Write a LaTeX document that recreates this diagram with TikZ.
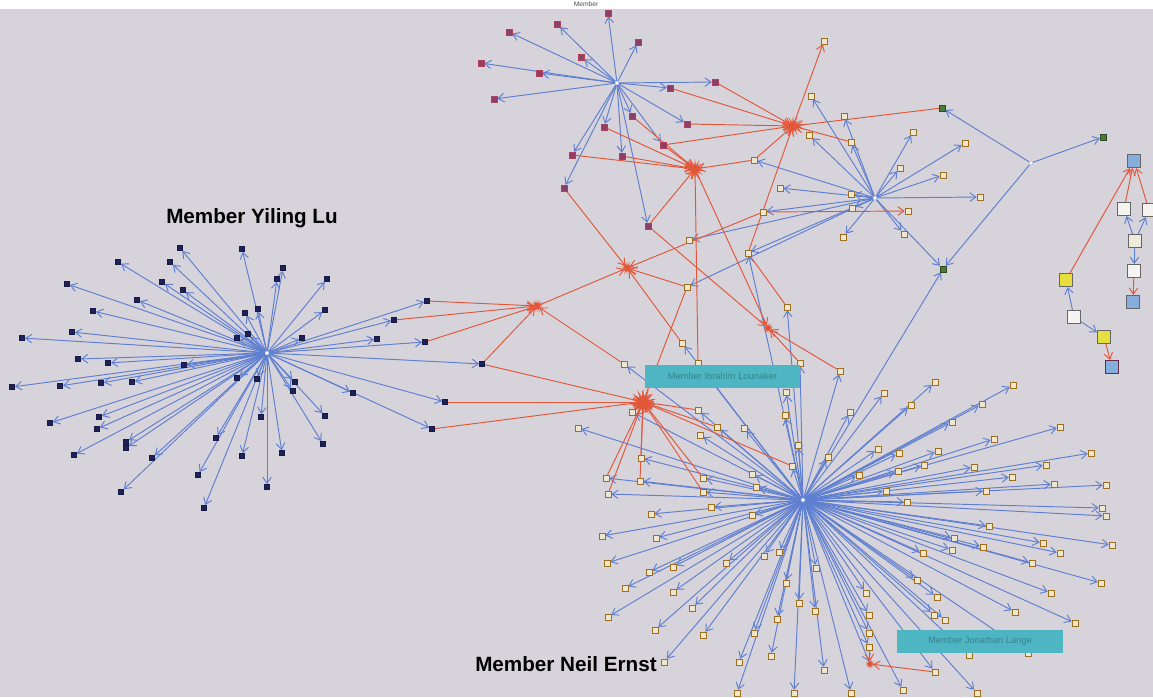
\documentclass[tikz,border=0pt]{standalone}
\usepackage{fontspec}
\newfontfamily\labfont{Liberation Sans}
\usetikzlibrary{arrows.meta,shapes.geometric}
\pgfdeclarelayer{bg}
\pgfdeclarelayer{edges}
\pgfsetlayers{bg,edges,main}

\definecolor{bgc}{HTML}{D7D3DB}
\definecolor{blueE}{HTML}{5F80D0}
\definecolor{redE}{HTML}{E2573A}
\definecolor{navy}{HTML}{1E2058}
\definecolor{plum}{HTML}{8C3F6A}
\definecolor{plumB}{HTML}{B0405A}
\definecolor{tanF}{HTML}{EEE6CF}
\definecolor{tanB}{HTML}{9C6E1E}
\definecolor{grn}{HTML}{4C7A3C}
\definecolor{cyanB}{HTML}{4DB6C2}
\definecolor{cyanT}{HTML}{35848F}
\definecolor{kblue}{HTML}{86AEDD}
\definecolor{kyel}{HTML}{E6DE3C}
\definecolor{kwhite}{HTML}{F6F4F0}
\definecolor{kcream}{HTML}{EEEBDC}

\tikzset{
  hub/.style={circle, fill=white, draw=blueE!70, line width=0.3pt, inner sep=0pt, minimum size=3pt},
  ynode/.style={rectangle, fill=navy, draw=navy!80!black, line width=0.3pt, inner sep=0pt, minimum size=4pt},
  pnode/.style={rectangle, fill=plum, draw=plumB, line width=0.4pt, inner sep=0pt, minimum size=4.4pt},
  tnode/.style={rectangle, fill=tanF, draw=tanB, line width=0.5pt, inner sep=0pt, minimum size=4.4pt},
  gnode/.style={rectangle, fill=grn, draw=grn!60!black, line width=0.4pt, inner sep=0pt, minimum size=4.4pt},
  knode/.style={rectangle, draw=black!60, line width=0.6pt, inner sep=0pt, minimum size=10pt},
  rhub/.style={circle, fill=redE, inner sep=0pt, minimum size=4pt},
  burst/.style={star, star points=14, star point ratio=2.6, fill=redE, draw=none, inner sep=0pt, minimum size=#1},
  bedge/.style={draw=blueE, line width=0.72pt, -{Straight Barb[length=4.6pt,width=6.4pt]}},
  redge/.style={draw=redE, line width=0.72pt, -{Straight Barb[length=4.6pt,width=6.4pt]}},
  rline/.style={draw=redE, line width=0.72pt},
  cbox/.style={rectangle, fill=cyanB, draw=none, inner sep=0pt, text=cyanT,
    font=\labfont\fontsize{7}{8}\selectfont},
  member/.style={font=\labfont\bfseries\fontsize{15.5}{17}\selectfont, text=black, inner sep=0pt}
}

\begin{document}
\begin{tikzpicture}[x=0.75pt,y=-0.75pt]
\clip (0,0) rectangle (1153,697);
\begin{pgfonlayer}{bg}
  \fill[bgc] (0,0) rectangle (1153,697);
  \fill[white] (0,0) rectangle (1153,9);
\end{pgfonlayer}

% ---------- hubs ----------
\node[hub] (Y) at (267,353) {};
\node[hub] (T) at (617,83) {};
\node[hub] (N) at (803,500) {};
\node[hub] (H) at (875,198) {};
\node[hub] (W) at (1031,163) {};

% ---------- relay hubs (red) ----------
\node[rhub] (R1) at (793,126) {};
\node[rhub] (R2) at (695,169) {};
\node[rhub] (R3) at (627,268) {};
\node[rhub] (R4) at (537,306) {};
\node[rhub] (R5) at (643,402) {};
\node[rhub] (R6) at (768,328) {};
\node[rhub] (q0) at (870,664) {};

% ---------- Yiling Lu cluster ----------
\foreach \x/\y [count=\i] in {180/248,242/249,118/262,170/262,283/268,277/279,327/279,67/284,
  162/282,183/290,137/300,93/311,325/310,245/313,258/309,72/332,22/338,302/338,248/334,
  237/338,377/339,78/359,108/363,184/365,12/387,60/386,101/383,132/382,237/378,257/379,
  295/382,293/391,353/393,50/423,99/417,97/429,261/417,325/416,126/442,126/448,74/455,
  152/458,216/438,242/456,282/453,323/444,198/475,267/487,121/492,204/508}{
  \node[ynode] (y\i) at (\x,\y) {};
  \begin{pgfonlayer}{edges}\draw[bedge] (Y) -- (y\i);\end{pgfonlayer}
}
\node[ynode] (yA) at (427,301) {};
\node[ynode] (yB) at (394,320) {};
\node[ynode] (yC) at (425,342) {};
\node[ynode] (yD) at (482,364) {};
\node[ynode] (yE) at (445,402) {};
\node[ynode] (yF) at (432,429) {};

% ---------- top cluster ----------
\foreach \x/\y [count=\i] in {608/13,557/24,509/32,638/42,581/57,481/63,539/73,494/99}{
  \node[pnode] (t\i) at (\x,\y) {};
  \begin{pgfonlayer}{edges}\draw[bedge] (T) -- (t\i);\end{pgfonlayer}
}
\node[pnode] (pA) at (715,82) {};
\node[pnode] (pB) at (670,88) {};
\node[pnode] (pC) at (687,124) {};
\node[pnode] (pD) at (663,145) {};
\node[pnode] (pE) at (604,127) {};
\node[pnode] (pF) at (632,116) {};
\node[pnode] (pG) at (572,155) {};
\node[pnode] (pH) at (622,156) {};
\node[pnode] (pI) at (564,188) {};
\node[pnode] (pJ) at (648,226) {};

% ---------- right cluster ----------
\foreach \x/\y [count=\i] in {913/132,965/143,900/168,943/175,980/197,851/194,852/208,
  904/234,843/237,844/116,811/96,809/135,780/188,689/240}{
  \node[tnode] (h\i) at (\x,\y) {};
  \begin{pgfonlayer}{edges}\draw[bedge] (H) -- (h\i);\end{pgfonlayer}
}
\node[tnode] (c17) at (851,142) {};
\node[tnode] (c11) at (754,160) {};
\node[tnode] (c10) at (763,212) {};
\node[tnode] (c3) at (687,287) {};
\node[tnode] (c5) at (748,253) {};
\node[tnode] (c18) at (908,211) {};
\node[tnode] (c15) at (824,41) {};
\node[gnode] (g1) at (942,108) {};
\node[gnode] (g2) at (1103,137) {};
\node[gnode] (g3) at (943,269) {};

% ---------- Neil Ernst cluster ----------
\foreach \x/\y [count=\i] in {935/382,1013/385,884/393,786/392,911/405,982/404,850/412,785/415,
  578/428,700/435,744/428,952/422,1060/427,994/439,878/449,899/453,938/451,798/445,828/457,
  1091/453,1046/465,974/467,924/465,898/471,859/475,1012/477,1054/484,1106/485,986/491,
  886/491,907/502,1102/508,1106/516,752/474,756/487,711/507,651/514,752/515,602/536,656/538,
  989/526,954/538,1043/543,1060/553,1112/545,983/547,952/550,923/553,1032/563,779/552,
  764/556,607/563,649/572,673/567,726/563,816/568,1101/583,917/580,625/588,673/592,786/583,
  866/593,1051/593,937/597,799/603,692/608,815/611,934/615,945/620,1015/612,1075/623,869/615,
  608/617,777/619,655/630,754/633,703/635,869/633,969/655,1028/653,739/662,771/656,824/670,
  737/693,794/693,851/693,903/690,977/693,664/662}{
  \node[tnode] (n\i) at (\x,\y) {};
  \begin{pgfonlayer}{edges}\draw[bedge] (N) -- (n\i);\end{pgfonlayer}
}
\node[tnode] (mA) at (632,412) {};
\node[tnode] (mB) at (606,478) {};
\node[tnode] (mC) at (608,494) {};
\node[tnode] (mD) at (640,481) {};
\node[tnode] (mE) at (703,478) {};
\node[tnode] (mF) at (703,492) {};
\node[tnode] (mG) at (698,410) {};
\node[tnode] (mH) at (717,427) {};
\node[tnode] (mI) at (792,466) {};
\node[tnode] (mJ) at (641,458) {};
\node[tnode] (c1) at (624,364) {};
\node[tnode] (c2) at (682,343) {};
\node[tnode] (c6) at (787,307) {};
\node[tnode] (c7) at (698,363) {};
\node[tnode] (c8) at (800,363) {};
\node[tnode] (c9) at (840,371) {};
\node[tnode] (q1) at (869,647) {};
\node[tnode] (q2) at (935,672) {};

% ---------- small chain on the far right ----------
\node[knode, fill=kblue] (k1) at (1134,161) {};
\node[knode, fill=kwhite] (k2) at (1124,209) {};
\node[knode, fill=kwhite] (k3) at (1149,210) {};
\node[knode, fill=kcream] (k4) at (1135,241) {};
\node[knode, fill=kwhite] (k5) at (1134,271) {};
\node[knode, fill=kblue] (k6) at (1133,302) {};
\node[knode, fill=kyel] (k7) at (1066,280) {};
\node[knode, fill=kwhite] (k8) at (1074,317) {};
\node[knode, fill=kyel] (k9) at (1104,337) {};
\node[knode, fill=kblue, draw=plum!70!black] (k10) at (1112,367) {};

\begin{pgfonlayer}{edges}
  % blue links
  \foreach \t in {yA,yB,yC,yD,yE,yF} \draw[bedge] (Y) -- (\t);
  \foreach \t in {pA,pB,pC,pD,pE,pF,pG,pH,pI,pJ} \draw[bedge] (T) -- (\t);
  \foreach \t in {c17,c11,c10,c3,c5,g3} \draw[bedge] (H) -- (\t);
  \foreach \t in {mA,mB,mC,mD,mE,mF,mG,mH,mI,mJ,c1,c2,c5,c6,c7,c8,c9,g3,q0,q1,q2}
    \draw[bedge] (N) -- (\t);
  \foreach \t in {g1,g2,g3} \draw[bedge] (W) -- (\t);
  \draw[bedge] (k4) -- (k2);
  \draw[bedge] (k4) -- (k3);
  \draw[bedge] (k4) -- (k5);
  \draw[bedge] (k8) -- (k7);
  \draw[bedge] (k8) -- (k9);
  % red links
  \foreach \s in {yA,yB,yC,yD,c1} \draw[redge] (\s) -- (R4);
  \draw[redge] (R4) -- (R3);
  \foreach \s in {pI,c2,c3,c10} \draw[redge] (\s) -- (R3);
  \draw[redge] (c10) -- (c18);
  \foreach \s in {pD,pE,pF,pG,pH,pJ,c11,c7} \draw[redge] (\s) -- (R2);
  \foreach \s in {pA,pB,pC,pD,g1,c17,c11,c5} \draw[redge] (\s) -- (R1);
  \draw[redge] (R1) -- (c15);
  \foreach \s in {R2,pJ,c8,c9} \draw[redge] (\s) -- (R6);
  \draw[rline] (c5) -- (c6);
  \foreach \s in {yD,yE,yF,c3,mA,mB,mC,mD,mE,mF,mG,mH,mI,mJ} \draw[redge] (\s) -- (R5);
  \draw[redge] (q1) -- (q0);
  \draw[redge] (q2) -- (q0);
  \draw[redge] (k7) -- (k1);
  \draw[redge] (k2) -- (k1);
  \draw[redge] (k3) -- (k1);
  \draw[redge] (k5) -- (k6);
  \draw[redge] (k9) -- (k10);
\end{pgfonlayer}

% bursts at the relay hubs
\node[burst=15pt] (b1) at (R1) {};
\node[burst=15pt] (b2) at (R2) {};
\node[burst=10pt] (b3) at (R3) {};
\node[burst=10pt] (b4) at (R4) {};
\node[burst=20pt] (b5) at (R5) {};
\node[burst=8pt] (b6) at (R6) {};
\node[burst=7pt] (b7) at (q0) {};

% ---------- labels ----------
\node[member] (labY) at (252,218) {Member Yiling Lu};
\node[member] (labN) at (566,664) {Member Neil Ernst};
\node[font=\labfont\fontsize{5}{6}\selectfont, text=black!70, inner sep=0pt] (labT) at (586,4.5) {Member};
\node[cbox, minimum width=116pt, minimum height=17pt] (box1) at (722.5,376.5) {Member Ibrahim Lounaker};
\node[cbox, minimum width=124.5pt, minimum height=17pt] (box2) at (980,641.5) {Member Jonathan Lange};
\end{tikzpicture}
\end{document}
